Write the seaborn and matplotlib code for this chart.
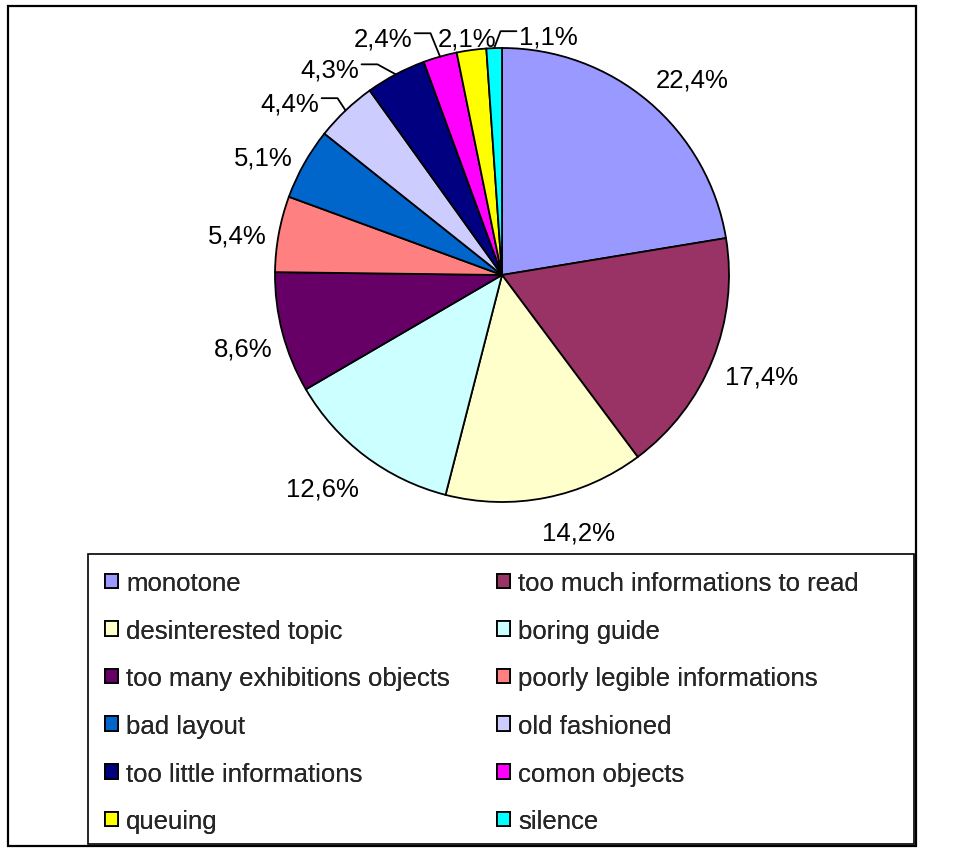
import numpy as np
import matplotlib
matplotlib.use("Agg")
import matplotlib.pyplot as plt
import seaborn as sns
from matplotlib.patches import Patch, Rectangle

CATEGORIES = ["monotone", "too much informations to read", "desinterested topic",
              "boring guide", "too many exhibitions objects", "poorly legible informations",
              "bad layout", "old fashioned", "too little informations", "comon objects",
              "queuing", "silence"]
SHARES = [22.4, 17.4, 14.2, 12.6, 8.6, 5.4, 5.1, 4.4, 4.3, 2.4, 2.1, 1.1]
LABELS = ["22,4%", "17,4%", "14,2%", "12,6%", "8,6%", "5,4%", "5,1%", "4,4%",
          "4,3%", "2,4%", "2,1%", "1,1%"]
COLORS = ["#9999FF", "#993366", "#FFFFCC", "#CCFFFF", "#660066", "#FF8080",
          "#0066CC", "#CCCCFF", "#000080", "#FF00FF", "#FFFF00", "#00FFFF"]

# label centres in pie-radius units, and which labels get a leader line
LABEL_XY = [(0.837, 0.872), (1.145, -0.436), (0.339, -1.123), (-0.793, -0.930),
            (-1.141, -0.313), (-1.167, 0.185), (-1.053, 0.529), (-0.934, 0.767),
            (-0.758, 0.916), (-0.524, 1.053), (-0.154, 1.053), (0.203, 1.062)]
LEADERS = {7: "right", 8: "right", 9: "right", 11: "left"}

sns.set_theme(style="white")
plt.rcParams["font.family"] = ["Liberation Sans", "DejaVu Sans"]
FS = 18.5

W, H = 958, 853
fig = plt.figure(figsize=(W / 100, H / 100), dpi=100)
fig.patch.set_facecolor("white")

# pie axes: centre at (502, 276) px, radius 227 px
cx, cy, r = 502, 276, 227
xr, yr = 1.3, 1.2
ax = fig.add_axes([(cx - xr * r) / W, (H - cy - yr * r) / H, 2 * xr * r / W, 2 * yr * r / H])
pal = sns.color_palette(COLORS)
wedges, _ = ax.pie(SHARES, colors=pal, startangle=90, counterclock=False,
                   wedgeprops=dict(edgecolor="black", linewidth=1.3))
ax.set_xlim(-xr, xr)
ax.set_ylim(-yr, yr)
ax.set_aspect("equal")
ax.axis("off")

texts = []
for lab, (x, y) in zip(LABELS, LABEL_XY):
    t = ax.text(x, y, lab, ha="center", va="center_baseline", fontsize=FS, color="black")
    texts.append(t)

fig.canvas.draw()
inv = ax.transData.inverted()
renderer = fig.canvas.get_renderer()
for i, side in LEADERS.items():
    w = wedges[i]
    mid = np.deg2rad((w.theta1 + w.theta2) / 2)
    px, py = np.cos(mid), np.sin(mid)
    bb = texts[i].get_window_extent(renderer)
    (x0, _), (x1, _) = inv.transform([(bb.x0, bb.y0), (bb.x1, bb.y1)])
    ty = LABEL_XY[i][1] + 0.012
    if side == "right":
        sx, ex = x1 + 0.01, x1 + 0.08
    else:
        sx, ex = x0 - 0.01, x0 - 0.08
    ax.plot([sx, ex, px], [ty, ty, py], color="black", lw=1.3, clip_on=False)

# legend in two columns
handles = [Patch(facecolor=c, edgecolor="black", linewidth=1.3) for c in pal]
col_x = [105, 497]
for k in range(2):
    idx = list(range(k, len(CATEGORIES), 2))
    leg = fig.legend([handles[i] for i in idx], [CATEGORIES[i] for i in idx],
                     loc="upper left", bbox_to_anchor=(col_x[k] / W, 1 - 572 / H),
                     bbox_transform=fig.transFigure, frameon=False, fontsize=FS,
                     handlelength=0.5, handleheight=0.5, handletextpad=0.33,
                     labelspacing=0.92, borderpad=0, borderaxespad=0)
    fig.add_artist(leg)

# legend box and outer frame
fig.add_artist(Rectangle((88 / W, 1 - 845 / H), (914 - 88) / W, (845 - 555) / H,
                         transform=fig.transFigure, fill=False, edgecolor="black", lw=1.2))
fig.add_artist(Rectangle((8 / W, 1 - 847 / H), (916 - 8) / W, (847 - 7) / H,
                         transform=fig.transFigure, fill=False, edgecolor="black", lw=1.6))

fig.savefig("out.png", dpi=100)
